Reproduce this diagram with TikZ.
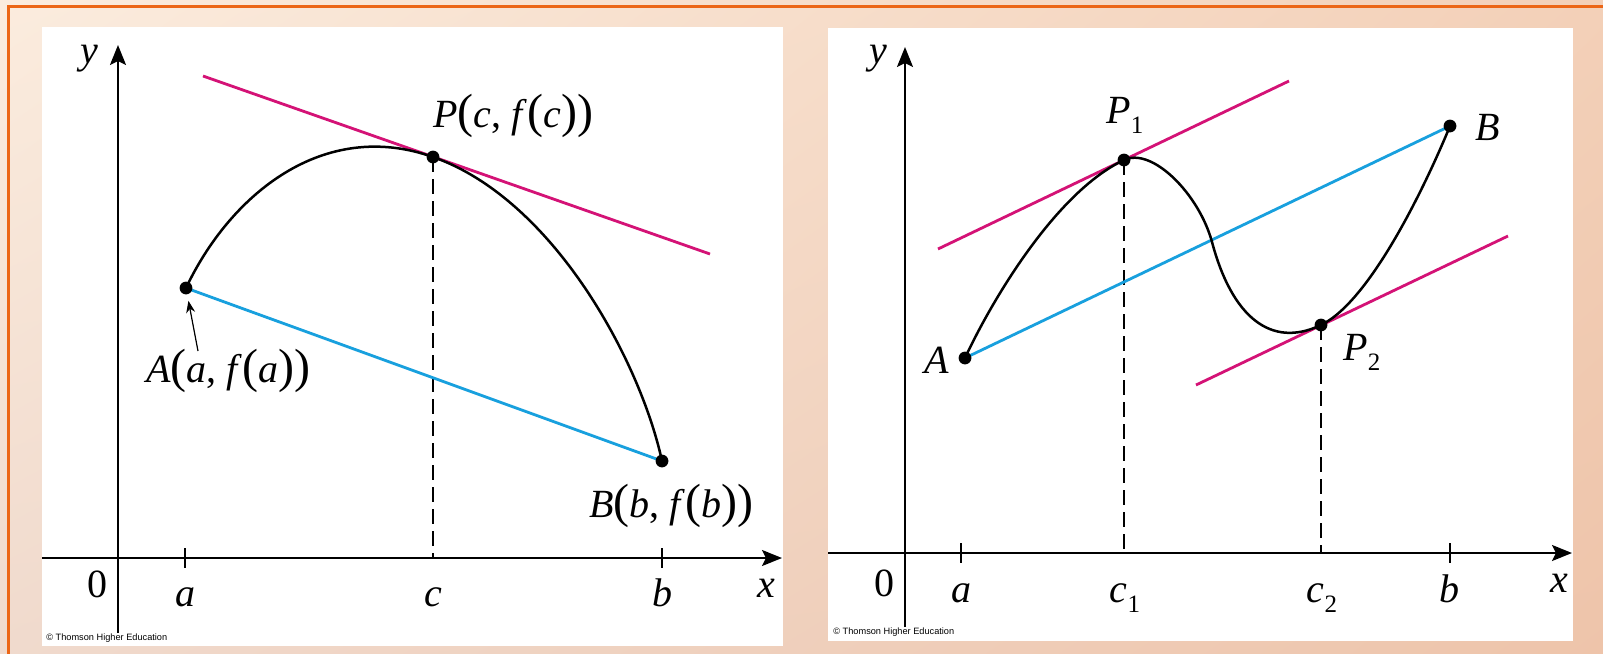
\documentclass[tikz,border=0pt]{standalone}
\usepackage{fontspec}
\setmainfont{Liberation Serif}
\newfontfamily\creditfont{Liberation Sans}
\usetikzlibrary{arrows.meta,shadings}
\definecolor{bgul}{RGB}{251,236,222}
\definecolor{bgur}{RGB}{243,208,184}
\definecolor{bgll}{RGB}{240,218,205}
\definecolor{bglr}{RGB}{238,196,170}
\definecolor{framecol}{RGB}{236,102,22}
\definecolor{tangcol}{RGB}{212,18,118}
\definecolor{seccol}{RGB}{24,160,222}
\newcommand{\lowidx}[1]{\raisebox{-5pt}{\fontsize{12.5}{12.5}\selectfont #1}}
\newcommand{\parL}{{\fontsize{24}{24}\selectfont(}}
\newcommand{\parR}{{\fontsize{24}{24}\selectfont)}}
\tikzset{
  lab/.style={font=\fontsize{20}{23}\selectfont,inner sep=0pt},
  credit/.style={font=\creditfont\fontsize{4.6}{5}\selectfont,anchor=west,inner sep=0pt},
  axis/.style={line width=1.1pt,-{Stealth[length=10pt,width=8pt,inset=2pt]}},
  tick/.style={line width=1.1pt},
  curve/.style={line width=1.25pt},
  tangent/.style={draw=tangcol,line width=1.4pt},
  secant/.style={draw=seccol,line width=1.4pt},
  drop/.style={line width=0.8pt,dash pattern=on 7.5pt off 3.5pt},
  pointer/.style={line width=0.6pt,-{Stealth[length=6pt,width=4.5pt]},shorten >=6.5pt},
}
\begin{document}
\begin{tikzpicture}[x=0.5pt,y=-0.5pt]
  \useasboundingbox (0,0) rectangle (1603,654);
  \shade[upper left=bgul,upper right=bgur,lower left=bgll,lower right=bglr] (0,0) rectangle (1603,654);
  \draw[framecol,line width=1.5pt] (8,654) -- (8,6) -- (1603,6);
  % left panel
  \fill[white] (42,27) rectangle (783,646);
  \coordinate (xl0) at (42,558);
  \coordinate (xl1) at (782,558);
  \coordinate (yl0) at (118,633);
  \coordinate (yl1) at (118,45);
  \draw[axis] (xl0) -- (xl1);
  \draw[axis] (yl0) -- (yl1);
  \draw[tick] (185,548) -- (185,568);
  \draw[tick] (662,548) -- (662,568);
  \coordinate (A) at (186,288);
  \coordinate (P) at (433,157);
  \coordinate (B) at (662,461);
  \coordinate (c) at (433,558);
  \coordinate (tl0) at (203,76);
  \coordinate (tl1) at (710,254);
  \draw[drop] (P) -- (c);
  \draw[tangent] (tl0) -- (tl1);
  \draw[secant] (A) -- (B);
  \draw[curve] (A) .. controls (230,195) and (323,118) .. (P)
    .. controls (553,199) and (640,360) .. (B);
  \foreach \p in {A,P,B} \fill (\p) circle (3.2pt);
  \node[lab,anchor=base] (ly) at (89,63) {\textit{y}};
  \node[lab,anchor=base] (lx) at (766,597) {\textit{x}};
  \node[lab,anchor=base] (lo) at (97,597) {0};
  \node[lab,anchor=base] (la) at (185,606) {\textit{a}};
  \node[lab,anchor=base] (lc) at (433,606) {\textit{c}};
  \node[lab,anchor=base] (lb) at (662,606) {\textit{b}};
  \node[lab,anchor=base west] (lP) at (433,127) {\textit{P}\parL\textit{c}, \textit{f}\parL\textit{c}\parR\parR};
  \node[lab,anchor=base west] (lA) at (146,382) {\textit{A}\parL\textit{a}, \textit{f}\parL\textit{a}\parR\parR};
  \node[lab,anchor=base west] (lB) at (589,517) {\textit{B}\parL\textit{b}, \textit{f}\parL\textit{b}\parR\parR};
  \coordinate (tailA) at (198,351);
  \draw[pointer] (tailA) -- (A);
  \node[credit] (cl) at (46,638) {© Thomson Higher Education};
  % right panel
  \fill[white] (828,28) rectangle (1573,641);
  \coordinate (xr0) at (828,553);
  \coordinate (xr1) at (1572,553);
  \coordinate (yr0) at (905,627);
  \coordinate (yr1) at (905,47);
  \draw[axis] (xr0) -- (xr1);
  \draw[axis] (yr0) -- (yr1);
  \draw[tick] (961,543) -- (961,563);
  \draw[tick] (1450,543) -- (1450,563);
  \coordinate (A2) at (965,358);
  \coordinate (P1) at (1124,160);
  \coordinate (P2) at (1321,325);
  \coordinate (B2) at (1450,126);
  \coordinate (M) at (1212,242);
  \coordinate (c1) at (1124,553);
  \coordinate (c2) at (1321,553);
  \coordinate (ta0) at (938,249);
  \coordinate (ta1) at (1289,81);
  \coordinate (tb0) at (1196,385);
  \coordinate (tb1) at (1508,236);
  \draw[drop] (P1) -- (c1);
  \draw[drop] (P2) -- (c2);
  \draw[tangent] (ta0) -- (ta1);
  \draw[tangent] (tb0) -- (tb1);
  \draw[secant] (A2) -- (B2);
  \draw[curve] (A2) .. controls (992,300) and (1056,192) .. (P1)
    .. controls (1152,146.6) and (1199,194) .. (M)
    .. controls (1232,317) and (1271,349) .. (P2)
    .. controls (1371,301) and (1427,182) .. (B2);
  \foreach \p in {A2,P1,P2,B2} \fill (\p) circle (3.2pt);
  \node[lab,anchor=base] (ry) at (878,63) {\textit{y}};
  \node[lab,anchor=base] (rx) at (1559,592) {\textit{x}};
  \node[lab,anchor=base] (ro) at (884,596) {0};
  \node[lab,anchor=base] (ra) at (961,602) {\textit{a}};
  \node[lab,anchor=base] (rc1) at (1125,602) {\textit{c}\lowidx{1}};
  \node[lab,anchor=base] (rc2) at (1322,602) {\textit{c}\lowidx{2}};
  \node[lab,anchor=base] (rb) at (1449,602) {\textit{b}};
  \node[lab,anchor=base] (rA) at (937,373) {\textit{A}};
  \node[lab,anchor=base] (rP1) at (1125,123) {\textit{P}\lowidx{1}};
  \node[lab,anchor=base] (rB) at (1488,140) {\textit{B}};
  \node[lab,anchor=base] (rP2) at (1362,360) {\textit{P}\lowidx{2}};
  \node[credit] (cr) at (833,632) {© Thomson Higher Education};
\end{tikzpicture}
\end{document}
